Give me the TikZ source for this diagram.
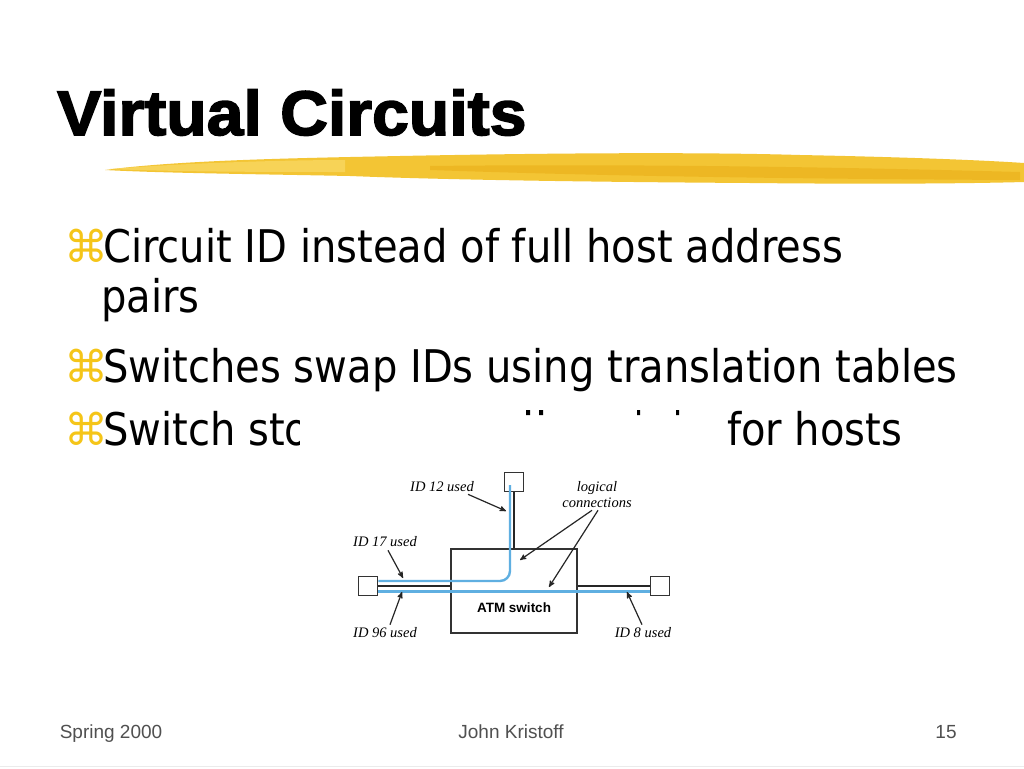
\documentclass[tikz,border=0pt]{standalone}
\usepackage{fontspec}
\setmainfont{Liberation Sans}
\newfontfamily\titlefont[FakeBold=2.5,FakeStretch=1.05]{Liberation Sans Bold}
\newfontfamily\bodyfont[FakeStretch=0.89]{DejaVu Sans}
\newfontfamily\symfont{DejaVu Sans}
\newfontfamily\labelfont{Liberation Serif}
\usetikzlibrary{positioning, arrows}
\definecolor{bulletyellow}{RGB}{245,197,24}
\definecolor{brushA}{RGB}{243,197,52}
\definecolor{brushB}{RGB}{235,178,28}
\definecolor{brushC}{RGB}{249,215,96}
\definecolor{vcblue}{RGB}{95,175,225}
\definecolor{footgray}{RGB}{80,80,80}
\tikzset{
>=stealth', % filled arrow heads
line/.style={anchor=base west, inner sep=0pt, font=\bodyfont\fontsize{45}{54}\selectfont},
bullet/.style={anchor=base west, inner sep=0pt, text=bulletyellow, font=\symfont\fontsize{44}{48}\selectfont},
host/.style={draw=black!80, line width=1.3pt, minimum size=19pt, inner sep=0pt},
atmbox/.style={draw=black!80, line width=1.3pt, minimum width=126pt, minimum height=84pt, inner sep=0pt},
wire/.style={draw=black!85, line width=1.6pt},
vc/.style={draw=vcblue, line width=2.4pt},
tag/.style={font=\labelfont\itshape\fontsize{14.5}{16}\selectfont, inner sep=0pt, align=center},
pointer/.style={->, draw=black!85, line width=1.2pt},
foot/.style={anchor=base, inner sep=0pt, text=footgray, font=\fontsize{19}{22}\selectfont},
}
\begin{document}
\begin{tikzpicture}[x=1pt, y=-1pt]
\useasboundingbox (0,0) rectangle (1024,768);
\fill[white] (0,0) rectangle (1024,768);

% title and brush stroke
\node[anchor=base west, inner sep=0pt, font=\titlefont\fontsize{63}{70}\selectfont] (title) at (57,135) {Virtual Circuits};
\fill[brushA] (105,170) .. controls (180,160) and (300,158) .. (400,156)
  .. controls (550,153) and (700,152) .. (800,155)
  .. controls (900,157) and (980,160) .. (1024,163) -- (1024,182)
  .. controls (950,184) and (850,184) .. (750,183)
  .. controls (600,182) and (450,180) .. (350,176)
  .. controls (250,174) and (160,173) .. (105,170) -- cycle;
\fill[brushC, opacity=0.8] (110,169) .. controls (200,162) and (300,160) .. (345,160)
  -- (345,172) .. controls (280,172) and (180,172) .. (110,169) -- cycle;
\fill[brushB, opacity=0.7] (430,166) .. controls (600,164) and (800,166) .. (1020,172)
  -- (1020,180) .. controls (800,179) and (600,176) .. (430,170) -- cycle;

% bullets
\node[bullet] (b1) at (64,262) {⌘};
\node[line] (t1) at (103,262) {Circuit ID instead of full host address};
\node[line] (t1b) at (101,312) {pairs};
\node[bullet] (b2) at (64,382) {⌘};
\node[line] (t2) at (103,382) {Switches swap IDs using translation tables};
\node[bullet] (b3) at (64,445) {⌘};
\node[line] (t3) at (103,445) {Switch sto};
\node[line] (t3b) at (727,445) {for hosts};

% picture pasted over the last line
\fill[white] (300,416) rectangle (727,652);
\fill[black] (526,410) rectangle (530,415) (539,410) rectangle (543,415)
  (637,410) rectangle (640,415) (676,410) rectangle (679,415);

% network
\node[atmbox] (atm) at (514,591) {};
\node[font=\bfseries\fontsize{13.5}{15}\selectfont, inner sep=0pt] (atmlabel) at ([yshift=-17pt]atm.center) {ATM switch};
\node[host, above=56pt of atm] (h12) {};
\node[host, left=72pt of atm.west, yshift=5pt] (h17) {};
\node[host, right=72pt of atm.east, yshift=5pt] (h8) {};

\draw[wire] (h12) -- (h12 |- atm.north);
\draw[wire] (h17) -- (h17 -| atm.west);
\draw[wire] (h8) -- (h8 -| atm.east);
\draw[vc, rounded corners=10pt] ([xshift=-4pt, yshift=-3pt]h12.center) |- ([yshift=5pt]h17.east);
\draw[vc] ([yshift=-5.5pt]h17.east) -- ([yshift=-5.5pt]h8.west);

% labels
\node[tag] (l12) at (442,487) {ID 12 used};
\node[tag] (lc) at (597,495) {logical\\connections};
\node[tag] (l17) at (385,542) {ID 17 used};
\node[tag] (l96) at (385,633) {ID 96 used};
\node[tag] (l8) at (643,633) {ID 8 used};

\coordinate (p12) at (506,511);
\coordinate (pc1) at (520,560);
\coordinate (pc2) at (549,587);
\coordinate (p17) at (403,578);
\coordinate (p96) at (402,592);
\coordinate (p8) at (627,592);

\draw[pointer] ([xshift=-6pt, yshift=-2pt]l12.south east) -- (p12);
\draw[pointer] ([xshift=-5pt, yshift=-2pt]lc.south) -- (pc1);
\draw[pointer] ([xshift=1pt, yshift=-2pt]lc.south) -- (pc2);
\draw[pointer] ([xshift=3pt, yshift=-3pt]l17.south) -- (p17);
\draw[pointer] ([xshift=5pt, yshift=3pt]l96.north) -- (p96);
\draw[pointer] ([xshift=-1pt, yshift=3pt]l8.north) -- (p8);

% footer
\node[foot] (f1) at (111,738) {Spring 2000};
\node[foot] (f2) at (511,738) {John Kristoff};
\node[foot] (f3) at (946,738) {15};
\draw[black!8, line width=1pt] (0,766) -- (1024,766);
\end{tikzpicture}
\end{document}
